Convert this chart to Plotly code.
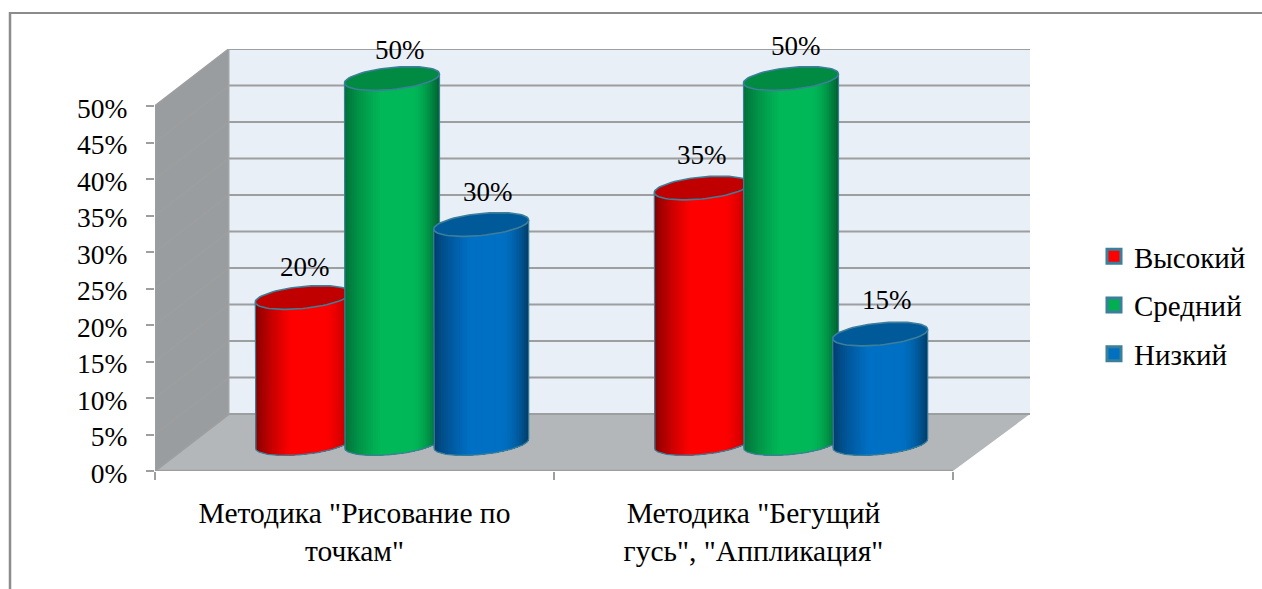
import numpy as np
import plotly.graph_objects as go

categories = ['Методика "Рисование по<br>точкам"', 'Методика "Бегущий<br>гусь", "Аппликация"']
series_names = ["Высокий", "Средний", "Низкий"]
vysokiy = [20, 35]
sredniy = [50, 50]
nizkiy = [30, 15]
y_ticks = [0, 5, 10, 15, 20, 25, 30, 35, 40, 45, 50]

# --- style / layout constants ---
W, H = 1262, 589
L, R, T, B = 155, 1030, 49, 471
PX_X = 399.0        # pixels per category
PX_Y = 7.3          # pixels per percent
X_MAX = (R - L) / PX_X
Y_MAX = (B - T) / PX_Y
DEPTH_X = 74 / PX_X
DEPTH_Y = (B - 414) / PX_Y
CYL_BASE = (B - 443.5) / PX_Y
CYL_A = 47.5 / PX_X
CYL_B = 11 / PX_Y
CYL_SKEW = 0.095 * PX_X / PX_Y   # value units per category unit
CYL_STEP = 89.2 / PX_X
GROUP_OFF = 37.5 / PX_X
N_STRIP = 40
FONT = "Liberation Serif"
OUTLINE = "#3B7F9A"
GRID = "#9C9E9F"
styles = [
    dict(dark="#7A0000", mid="#FF0000", edge="#B00000", top="#C00000", flat="#FF0000"),
    dict(dark="#006B36", mid="#00B858", edge="#006030", top="#008A42", flat="#00B050"),
    dict(dark="#003A68", mid="#0070C4", edge="#003E6A", top="#005A9A", flat="#0070C0"),
]
LABEL_NUDGE_X = [[2, 0], [8, 5], [7, 7]]
LABEL_LIFT = [[31, 33], [29, 33], [33, 34]]


def rgb(h):
    return np.array([int(h[i:i + 2], 16) for i in (1, 3, 5)], float)


def shade(st, u):
    # u in 0..1 across the cylinder
    if u < 0.38:
        f = (u / 0.38) ** 0.7
        c = rgb(st["dark"]) * (1 - f) + rgb(st["mid"]) * f
    elif u < 0.72:
        c = rgb(st["mid"])
    else:
        f = ((u - 0.72) / 0.28) ** 1.6
        c = rgb(st["mid"]) * (1 - f) + rgb(st["edge"]) * f
    return "rgb(%d,%d,%d)" % tuple(c)


fig = go.Figure()


def poly(x, y, fill, line=None, lw=0, mode="lines"):
    fig.add_trace(go.Scatter(x=x, y=y, mode=mode, fill="toself" if fill else None, fillcolor=fill,
                             line=dict(color=line or "rgba(0,0,0,0)", width=lw),
                             hoverinfo="skip", showlegend=False, cliponaxis=False))


# walls
poly([DEPTH_X, X_MAX, X_MAX, DEPTH_X, DEPTH_X],
     [DEPTH_Y, DEPTH_Y, Y_MAX, Y_MAX, DEPTH_Y], "#E9EFF7")
poly([0, DEPTH_X, DEPTH_X, 0, 0], [0, DEPTH_Y, Y_MAX, 50, 0], "#9A9D9F")
poly([0, DEPTH_X, X_MAX, 2, 0], [0, DEPTH_Y, DEPTH_Y, 0, 0], "#B4B7BA")

# grid lines
for v in y_ticks:
    poly([0, DEPTH_X, X_MAX], [v, v + DEPTH_Y, v + DEPTH_Y], None, GRID, 2)
poly([0, 0], [0, 50], None, GRID, 2)
poly([DEPTH_X, DEPTH_X], [DEPTH_Y, Y_MAX], None, "#A8AAAC", 1)
poly([0, 2], [0, 0], None, GRID, 2.5)

# cylinders
all_values = [vysokiy, sredniy, nizkiy]
t = np.linspace(0, 2 * np.pi, 73)
arc_all = np.linspace(np.pi, 2 * np.pi, 81)
for s, (vals, st) in enumerate(zip(all_values, styles)):
    for g, v in enumerate(vals):
        cx = g + 0.5 + GROUP_OFF + (s - 1) * CYL_STEP
        edges = np.linspace(-1, 1, N_STRIP + 1)
        for e0 in edges[:-1]:
            # every strip reaches to the right edge; the next one paints over it, so no seams appear
            m = arc_all[np.cos(arc_all) >= e0]
            ax = CYL_A * np.cos(m)
            lx = np.concatenate([[e0 * CYL_A], ax])
            ly = np.concatenate([[CYL_SKEW * e0 * CYL_A - CYL_B * np.sqrt(max(0, 1 - e0 ** 2))],
                                 CYL_SKEW * ax + CYL_B * np.sin(m)])
            px = np.concatenate([cx + lx, [cx + CYL_A, cx + e0 * CYL_A, cx + lx[0]]])
            py = np.concatenate([CYL_BASE + ly,
                                 [CYL_BASE + v + CYL_SKEW * CYL_A,
                                  CYL_BASE + v + CYL_SKEW * e0 * CYL_A, CYL_BASE + ly[0]]])
            col = shade(st, (e0 + 1 / N_STRIP + 1) / 2)
            poly(px, py, col)
        # side and bottom outline
        ax = CYL_A * np.cos(arc_all)
        ay = CYL_BASE + CYL_SKEW * ax + CYL_B * np.sin(arc_all)
        ox = np.concatenate([[cx - CYL_A], cx + ax, [cx + CYL_A]])
        oy = np.concatenate([[CYL_BASE + v - CYL_SKEW * CYL_A], ay, [CYL_BASE + v + CYL_SKEW * CYL_A]])
        poly(ox, oy, None, OUTLINE, 1.2)
        # top ellipse
        ex = CYL_A * np.cos(t)
        ey = CYL_BASE + v + CYL_SKEW * ex + CYL_B * np.sin(t)
        poly(cx + ex, ey, st["top"], OUTLINE, 1.6)

# legend entries
for name, st in zip(series_names, styles):
    fig.add_trace(go.Scatter(x=[None], y=[None], mode="markers", name=name, legendgroup=name,
                             marker=dict(symbol="square", size=14, color=st["flat"],
                                         line=dict(color=OUTLINE, width=3))))

annotations = []
for s, vals in enumerate(all_values):
    for g, v in enumerate(vals):
        annotations.append(dict(
            x=g + 0.5 + GROUP_OFF + (s - 1) * CYL_STEP, y=CYL_BASE + v, xref="x", yref="y",
            text=f"{v}%", showarrow=False, xshift=LABEL_NUDGE_X[s][g], yshift=LABEL_LIFT[s][g],
            font=dict(family=FONT, size=27, color="black")))


def px_x(p):
    return (p - L) / (R - L)


def px_y(p):
    return (B - p) / (B - T)


fig.update_layout(
    width=W, height=H, paper_bgcolor="white", plot_bgcolor="rgba(0,0,0,0)",
    margin=dict(l=L, r=W - R, t=T, b=H - B, autoexpand=False),
    font=dict(family=FONT, size=27, color="black"),
    annotations=annotations,
    shapes=[
        dict(type="line", xref="paper", yref="paper", x0=px_x(9), x1=px_x(W), y0=px_y(13), y1=px_y(13),
             line=dict(color="#8C8C8C", width=2)),
        dict(type="line", xref="paper", yref="paper", x0=px_x(10), x1=px_x(10), y0=px_y(12), y1=px_y(H),
             line=dict(color="#8C8C8C", width=2.5)),
    ],
    xaxis=dict(range=[0, X_MAX], tickmode="array", tickvals=[0.5, 1.5], ticktext=categories,
               showgrid=False, zeroline=False, showline=False, ticks="", ticklabelstandoff=21,
               tickangle=0, tickfont=dict(family=FONT, size=29.5),
               minor=dict(tickmode="array", tickvals=[0, 1, 2], ticks="outside", ticklen=8, tickwidth=2,
                          tickcolor=GRID, showgrid=False)),
    yaxis=dict(range=[0, Y_MAX], tickmode="array", tickvals=y_ticks, ticktext=[f"{v}%" for v in y_ticks],
               showgrid=False, zeroline=False, showline=False, ticks="outside", ticklen=8, tickwidth=2,
               tickcolor=GRID, ticklabelstandoff=13, ticklabelshift=2, tickfont=dict(family=FONT, size=27.5)),
    showlegend=True,
    legend=dict(x=px_x(1094), y=px_y(231), xanchor="left", yanchor="top", tracegroupgap=8,
                bgcolor="rgba(0,0,0,0)", font=dict(family=FONT, size=29), itemclick=False),
)

fig.write_html("out.html", config=dict(displayModeBar=False),
               post_script="document.body.style.margin='0';")
